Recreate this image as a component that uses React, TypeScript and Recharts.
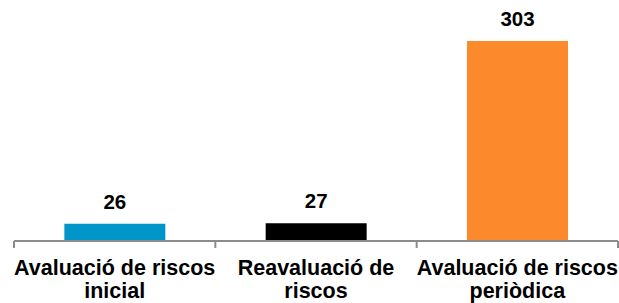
import React from 'react';
import { BarChart, Bar, XAxis, YAxis, Cell, LabelList } from 'recharts';

const categories = [
  'Avaluació de riscos\ninicial',
  'Reavaluació de\nriscos',
  'Avaluació de riscos\nperiòdica',
];
const values = [26, 27, 303];
const colors = ['#0096C9', '#000000', '#FD892D'];

const data = categories.map((name, i) => ({ name, value: values[i] }));

const W = 619;
const H = 303;
const LEFT = 14;
const RIGHT = 1;
const BAND = (W - LEFT - RIGHT) / categories.length;

const CategoryTick = (props: any) => {
  const { x, y, payload, index } = props;
  const lines = String(payload.value).split('\n');
  return (
    <g>
      <line x1={x - BAND / 2} y1={y} x2={x - BAND / 2} y2={y + 7} stroke="#8c8c8c" strokeWidth={2} />
      {index === categories.length - 1 && (
        <line x1={x + BAND / 2} y1={y} x2={x + BAND / 2} y2={y + 7} stroke="#8c8c8c" strokeWidth={2} />
      )}
      <text
        x={x}
        y={y}
        textAnchor="middle"
        fill="#000"
        fontFamily="'Liberation Sans', Arial, sans-serif"
        fontWeight="bold"
        fontSize={21.5}
      >
        {lines.map((l, i) => (
          <tspan key={i} x={x} y={y + 34 + i * 23}>
            {l}
          </tspan>
        ))}
      </text>
    </g>
  );
};

export default function App() {
  return (
    <div style={{ position: 'absolute', left: 0, top: 0, background: '#fff' }}>
      <BarChart
        width={W}
        height={H}
        data={data}
        margin={{ top: 41, right: RIGHT, left: LEFT, bottom: 0 }}
        barCategoryGap="25%"
      >
        <XAxis
          dataKey="name"
          height={62}
          interval={0}
          tickLine={false}
          tickSize={0}
          tickMargin={0}
          axisLine={{ stroke: '#8c8c8c', strokeWidth: 2 }}
          tick={<CategoryTick />}
        />
        <YAxis hide domain={[0, 303]} allowDataOverflow />
        <Bar dataKey="value" isAnimationActive={false}>
          {data.map((d, i) => (
            <Cell key={d.name} fill={colors[i]} />
          ))}
          <LabelList
            dataKey="value"
            position="top"
            offset={15}
            fill="#000"
            fontFamily="'Liberation Sans', Arial, sans-serif"
            fontWeight="bold"
            fontSize={20.5}
          />
        </Bar>
      </BarChart>
    </div>
  );
}
